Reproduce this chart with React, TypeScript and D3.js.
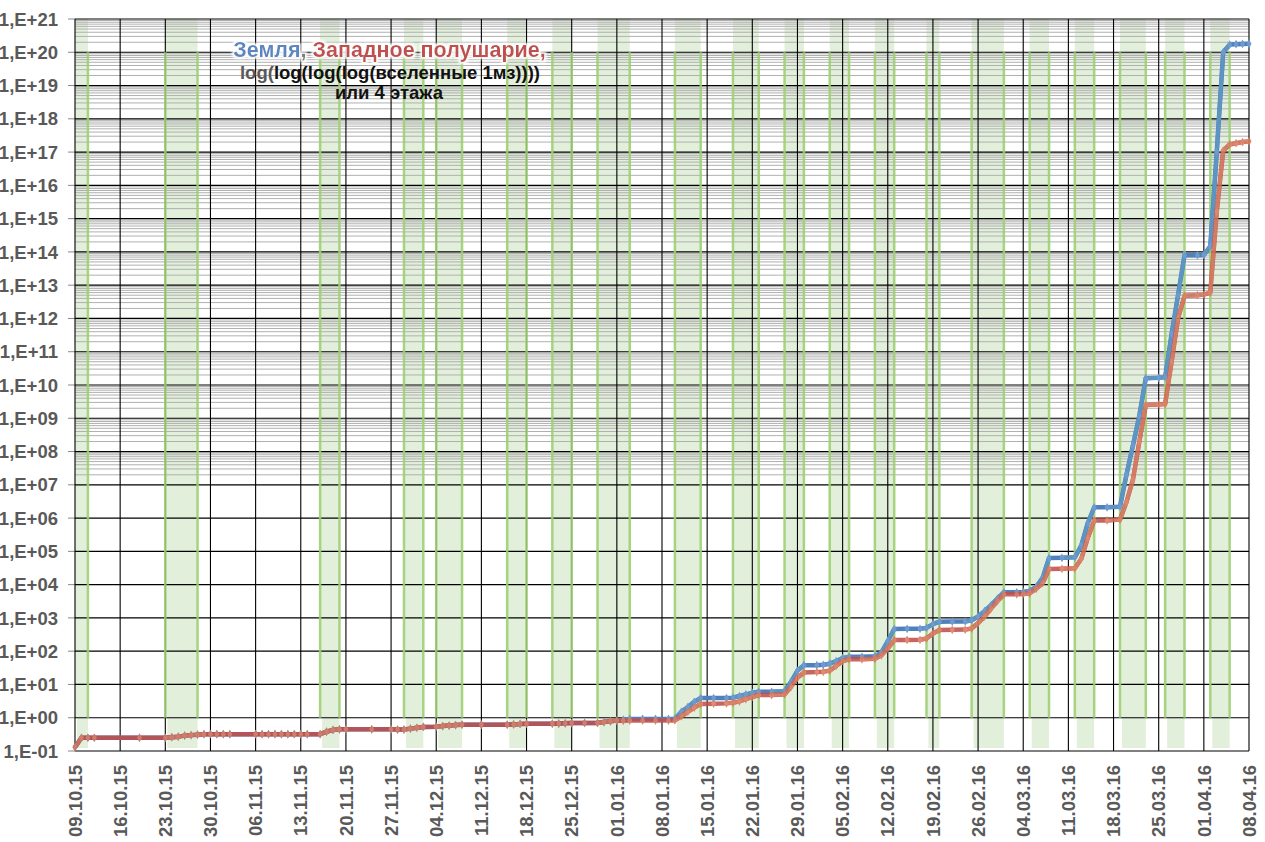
import React from 'react';
import * as d3 from 'd3';

// даты наблюдений и значения двух рядов
const dates = [
  '09.10.15', '10.10.15', '11.10.15', '12.10.15', '19.10.15', '23.10.15', '24.10.15', '25.10.15',
  '26.10.15', '27.10.15', '28.10.15', '29.10.15', '30.10.15', '31.10.15', '01.11.15', '02.11.15',
  '06.11.15', '07.11.15', '08.11.15', '09.11.15', '10.11.15', '11.11.15', '12.11.15', '13.11.15',
  '14.11.15', '16.11.15', '17.11.15', '18.11.15', '19.11.15', '20.11.15', '24.11.15', '27.11.15',
  '28.11.15', '29.11.15', '30.11.15', '01.12.15', '02.12.15', '04.12.15', '05.12.15', '06.12.15',
  '07.12.15', '08.12.15', '11.12.15', '15.12.15', '16.12.15', '17.12.15', '18.12.15', '22.12.15',
  '23.12.15', '24.12.15', '25.12.15', '27.12.15', '29.12.15', '30.12.15', '31.12.15', '01.01.16',
  '02.01.16', '03.01.16', '05.01.16', '07.01.16', '09.01.16', '10.01.16', '11.01.16', '12.01.16',
  '13.01.16', '14.01.16', '16.01.16', '18.01.16', '19.01.16', '20.01.16', '21.01.16', '22.01.16',
  '23.01.16', '25.01.16', '27.01.16', '28.01.16', '29.01.16', '30.01.16', '01.02.16', '02.02.16',
  '03.02.16', '04.02.16', '05.02.16', '06.02.16', '08.02.16', '10.02.16', '11.02.16', '12.02.16',
  '13.02.16', '15.02.16', '17.02.16', '18.02.16', '19.02.16', '20.02.16', '22.02.16', '24.02.16',
  '25.02.16', '26.02.16', '27.02.16', '28.02.16', '29.02.16', '01.03.16', '03.03.16', '04.03.16',
  '05.03.16', '06.03.16', '07.03.16', '08.03.16', '10.03.16', '12.03.16', '13.03.16', '14.03.16',
  '15.03.16', '17.03.16', '19.03.16', '20.03.16', '21.03.16', '22.03.16', '23.03.16', '25.03.16',
  '26.03.16', '27.03.16', '28.03.16', '29.03.16', '31.03.16', '01.04.16', '02.04.16', '03.04.16',
  '04.04.16', '05.04.16', '06.04.16', '07.04.16', '08.04.16',
];

const earth = [
  0.13, 0.25, 0.25, 0.25, 0.25, 0.25, 0.26, 0.27,
  0.29, 0.3, 0.31, 0.32, 0.32, 0.32, 0.32, 0.32,
  0.32, 0.32, 0.32, 0.32, 0.32, 0.32, 0.32, 0.32,
  0.32, 0.32, 0.38, 0.43, 0.45, 0.45, 0.45, 0.45,
  0.44, 0.44, 0.47, 0.5, 0.53, 0.54, 0.56, 0.58,
  0.6, 0.62, 0.62, 0.62, 0.63, 0.65, 0.66, 0.66,
  0.67, 0.68, 0.69, 0.7, 0.7, 0.74, 0.78, 0.82,
  0.87, 0.92, 0.92, 0.92, 0.92, 0.93, 1.5, 2.1,
  3.0, 3.9, 3.9, 3.9, 4.0, 4.5, 5.0, 5.6,
  6.0, 6.0, 6.2, 12, 26, 38, 38, 39,
  42, 50, 62, 68, 68, 70, 90, 200,
  464, 470, 470, 500, 650, 770, 775, 780,
  850, 1100, 1600, 2400, 3800, 5900, 5900, 6000,
  6500, 8500, 16000, 63000, 64000, 66000, 1.5e5, 7e5,
  2.1e6, 2.1e6, 2.2e6, 2e7, 1.5e8, 1.2e9, 1.6e10, 1.65e10,
  1.7e10, 3.4e11, 5e12, 8e13, 8e13, 8.1e13, 1.5e14, 1e17,
  1e20, 1.7e20, 1.75e20, 1.78e20, 1.8e20,
];

const west = [
  0.13, 0.25, 0.25, 0.25, 0.25, 0.25, 0.26, 0.27,
  0.29, 0.3, 0.31, 0.32, 0.32, 0.32, 0.32, 0.32,
  0.32, 0.32, 0.32, 0.32, 0.32, 0.32, 0.32, 0.32,
  0.32, 0.32, 0.38, 0.43, 0.45, 0.45, 0.45, 0.45,
  0.44, 0.44, 0.47, 0.5, 0.53, 0.54, 0.56, 0.58,
  0.6, 0.62, 0.62, 0.62, 0.63, 0.65, 0.66, 0.66,
  0.67, 0.68, 0.69, 0.7, 0.7, 0.74, 0.78, 0.82,
  0.81, 0.82, 0.82, 0.82, 0.82, 0.83, 1.1, 1.5,
  2.0, 2.6, 2.65, 2.7, 2.8, 3.1, 3.6, 4.2,
  4.8, 4.8, 5.0, 8.5, 16, 23, 23.5, 24,
  26, 36, 50, 57, 57, 59, 75, 120,
  217, 218, 220, 240, 340, 434, 440, 445,
  480, 700, 1100, 1900, 3200, 5100, 5100, 5200,
  5500, 7500, 11000, 29500, 30000, 31000, 6e4, 2.5e5,
  8.5e5, 8.5e5, 9e5, 3e6, 1.4e7, 2e8, 2.5e9, 2.6e9,
  2.7e9, 5e10, 1e12, 4.8e12, 5e12, 5.2e12, 6e12, 1.6e15,
  1.1e17, 1.7e17, 1.85e17, 2e17, 2.1e17,
];

// зелёные полосы (периоды роста)
const bandStarts = [
  '09.10.15', '23.10.15', '16.11.15', '29.11.15', '04.12.15', '15.12.15', '22.12.15',
  '29.12.15', '10.01.16', '19.01.16', '27.01.16', '03.02.16', '10.02.16', '18.02.16',
  '25.02.16', '05.03.16', '12.03.16', '19.03.16', '26.03.16', '02.04.16',
];
const bandEnds = [
  '11.10.15', '28.10.15', '19.11.15', '02.12.15', '08.12.15', '18.12.15', '25.12.15',
  '03.01.16', '14.01.16', '23.01.16', '30.01.16', '06.02.16', '13.02.16', '20.02.16',
  '01.03.16', '08.03.16', '15.03.16', '23.03.16', '29.03.16', '05.04.16',
];

const xStart = '09.10.15';
const xEnd = '08.04.16';
const minExp = -1;
const maxExp = 21;
const minorFromExp = 7;

const BLUE = '#4f81bd';
const RED = '#c0504d';
const FONT = '"Liberation Sans", Arial, sans-serif';

const parse = d3.timeParse('%d.%m.%y');
const fmt = d3.timeFormat('%d.%m.%y');

const left = 75;
const right = 1249;
const top = 19;
const bottom = 751;

const fmtExp = (e: number) => `1,E${e < 0 ? '-' : '+'}${String(Math.abs(e)).padStart(2, '0')}`;

const App: React.FC = () => {
  const x = d3.scaleTime()
    .domain([parse(xStart) as Date, parse(xEnd) as Date])
    .range([left, right]);
  const y = d3.scaleLog().domain([10 ** minExp, 10 ** maxExp]).range([bottom, top]);

  const dateObjs = dates.map(d => parse(d) as Date);
  const xTicks = d3.timeFriday.range(parse(xStart) as Date, d3.timeDay.offset(parse(xEnd) as Date, 1));
  const exps = d3.range(minExp, maxExp + 1);
  const minors: number[] = [];
  d3.range(minorFromExp, maxExp).forEach(e => {
    d3.range(2, 10).forEach(m => minors.push(m * 10 ** e));
  });

  const line = d3.line<number>()
    .x((_, i) => x(dateObjs[i]))
    .y(d => y(d));

  const bands = bandStarts.map((s, i) => ({
    x0: x(parse(s) as Date),
    x1: x(parse(bandEnds[i]) as Date),
  }));

  const marker = d3.symbol().type(d3.symbolDiamond).size(22)();

  // участки роста рисуются чуть светлее
  const rises = (vals: number[]) =>
    d3.range(vals.length - 1).filter(i => vals[i + 1] / vals[i] > 1.03);

  const series = [
    { vals: earth, color: BLUE, rise: '#5c94c2', mark: '#6d9bd0', opacity: 1 },
    { vals: west, color: RED, rise: '#d36e55', mark: '#dc7a5e', opacity: 0.88 },
  ];

  return (
    <svg width={1265} height={842} style={{ position: 'absolute', left: 0, top: 0, background: '#fff' }}
      fontFamily={FONT}>
      <defs>
        <clipPath id="plot">
          <rect x={left} y={top} width={right - left} height={bottom - top} />
        </clipPath>
        <filter id="glow" x="-5%" y="-30%" width="110%" height="160%">
          <feMorphology in="SourceAlpha" operator="dilate" radius="1.5" result="d" />
          <feGaussianBlur in="d" stdDeviation="1.2" result="b" />
          <feFlood floodColor="#ffffff" floodOpacity="0.95" />
          <feComposite in2="b" operator="in" result="g" />
          <feMerge>
            <feMergeNode in="g" />
            <feMergeNode in="SourceGraphic" />
          </feMerge>
        </filter>
      </defs>

      {/* полосы: бледная заливка */}
      <g clipPath="url(#plot)">
        {bands.map((b, i) => (
          <g key={i}>
            <rect x={b.x0} y={top} width={b.x1 - b.x0} height={y(1) - top} fill="#e2efda" />
            <rect x={b.x0 + 2} y={y(1)} width={b.x1 - b.x0 - 2} height={bottom - 3 - y(1)} fill="#e2efda" />
          </g>
        ))}
      </g>

      {/* малые линии сетки */}
      {minors.map((v, i) => (
        <line key={i} x1={left} x2={right} y1={y(v)} y2={y(v)} stroke="#b0b0b0" strokeWidth={1} />
      ))}

      {/* основные линии сетки и подписи */}
      {exps.map(e => (
        <g key={e}>
          <line x1={left} x2={right} y1={y(10 ** e)} y2={y(10 ** e)} stroke="#000" strokeWidth={1.2} />
          <line x1={left - 7} x2={left} y1={y(10 ** e)} y2={y(10 ** e)} stroke="#888" strokeWidth={1} />
          <text x={58} y={y(10 ** e)} dy="0.36em" textAnchor="end" fontSize={18.5} fontWeight="bold"
            fill="#595959">{fmtExp(e)}</text>
        </g>
      ))}
      {xTicks.map((t, i) => (
        <g key={i}>
          <line x1={x(t)} x2={x(t)} y1={top} y2={bottom} stroke="#000" strokeWidth={1.1} />
          <text transform={`translate(${x(t)},765) rotate(-90)`} dy="0.36em" textAnchor="end"
            fontSize={18.5} fontWeight="bold" fill="#595959">{fmt(t)}</text>
        </g>
      ))}

      {/* края полос */}
      <g clipPath="url(#plot)">
        {bands.map((b, i) => (
          <g key={i} stroke="#9fcf74" strokeWidth={2.5} strokeOpacity={0.9}>
            {i > 0 && <line x1={b.x0} x2={b.x0} y1={y(1e20)} y2={y(1)} />}
            <line x1={b.x1} x2={b.x1} y1={y(1e20)} y2={y(1)} />
          </g>
        ))}
      </g>

      {/* ряды */}
      {series.map((s, k) => (
        <g key={k} opacity={s.opacity}>
          <path d={line(s.vals) || ''} fill="none" stroke={s.color} strokeWidth={4.5} strokeLinejoin="round" />
          {rises(s.vals).map(i => (
            <line key={i} x1={x(dateObjs[i])} y1={y(s.vals[i])} x2={x(dateObjs[i + 1])} y2={y(s.vals[i + 1])}
              stroke={s.rise} strokeWidth={4} strokeLinecap="round" />
          ))}
          {s.vals.map((v, i) => (
            <path key={i} d={marker} transform={`translate(${x(dateObjs[i])},${y(v)})`} fill={s.mark} />
          ))}
        </g>
      ))}

      {/* заголовок */}
      <g textAnchor="middle" fontWeight="bold">
        <text x={389.5} y={57} fontSize={21.5} filter="url(#glow)">
          <tspan fill="#5a87c2">Земля</tspan>
          <tspan fill="#7f7f7f">, </tspan>
          <tspan fill={RED}>Западное полушарие,</tspan>
        </text>
        <text x={390} y={78.5} fontSize={18.5}>
          <tspan fill="#595959">log(</tspan>
          <tspan fill="#111">log(log(log(вселенные 1мз))))</tspan>
        </text>
        <text x={389} y={98.5} fontSize={18.5} fill="#111">или 4 этажа</text>
      </g>
    </svg>
  );
};

export default App;
